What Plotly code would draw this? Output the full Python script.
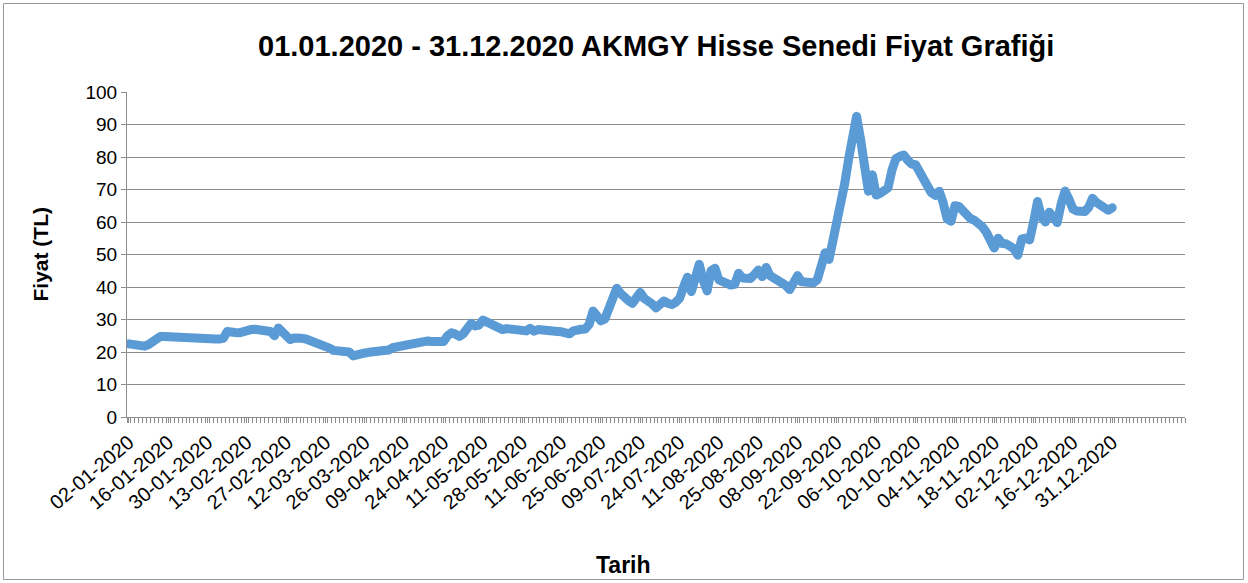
import plotly.graph_objects as go

TITLE = "01.01.2020 - 31.12.2020 AKMGY Hisse Senedi Fiyat Grafiği"
X_TITLE = "Tarih"
Y_TITLE = "Fiyat (TL)"

TICK_LABELS = [
    "02-01-2020", "16-01-2020", "30-01-2020", "13-02-2020", "27-02-2020",
    "12-03-2020", "26-03-2020", "09-04-2020", "24-04-2020", "11-05-2020",
    "28-05-2020", "11-06-2020", "25-06-2020", "09-07-2020", "24-07-2020",
    "11-08-2020", "25-08-2020", "08-09-2020", "22-09-2020", "06-10-2020",
    "20-10-2020", "04-11-2020", "18-11-2020", "02-12-2020", "16-12-2020",
    "31.12.2020",
]
LABEL_EVERY = 10
N_CATEGORIES = 269  # includes empty trailing categories of the axis

PRICES = [
    22.5, 22.2, 21.9, 21.7, 21.8, 22.3, 23.3, 24.4, 24.8, 24.8,
    24.7, 24.9, 24.5, 24.3, 24.2, 24.2, 24.1, 24.0, 24.1, 24.3,
    24.2, 24.1, 24.0, 24.0, 24.2, 26.3, 25.8, 26.0, 25.9, 26.4,
    26.6, 26.9, 27.0, 26.7, 26.6, 26.4, 26.3, 25.0, 27.4, 26.2,
    24.8, 23.8, 24.3, 24.5, 24.2, 24.0, 23.6, 23.3, 22.9, 22.6,
    22.0, 21.2, 20.5, 20.2, 20.3, 20.3, 20.0, 18.8, 19.3, 19.6,
    19.7, 19.9, 20.0, 20.0, 20.1, 20.0, 20.6, 21.3, 21.6, 21.8,
    22.0, 22.1, 22.2, 22.6, 23.0, 23.3, 23.4, 23.2, 23.0, 22.8,
    23.2, 25.0, 25.9, 25.5, 24.8, 25.6, 27.0, 28.8, 28.0, 28.3,
    29.8, 29.2, 28.6, 27.5, 26.8, 26.9, 27.2, 27.0, 26.8, 26.6,
    26.4, 26.5, 27.3, 26.4, 26.9, 26.9, 26.7, 26.5, 26.4, 26.3,
    26.2, 26.0, 25.6, 26.5, 27.0, 27.0, 27.1, 28.5, 32.6, 31.0,
    29.6, 30.2, 33.8, 37.2, 39.6, 38.0, 36.6, 35.8, 35.0, 36.2,
    38.3, 36.5, 36.0, 34.8, 33.6, 34.6, 35.7, 35.0, 34.6, 35.3,
    36.5, 40.0, 43.0, 38.6, 43.5, 47.0, 42.0, 38.8, 45.0, 45.8,
    42.2, 41.6, 41.0, 40.6, 40.8, 44.2, 42.8, 42.6, 42.6, 43.8,
    45.2, 43.2, 46.0, 43.5, 42.8, 42.3, 41.6, 40.5, 39.2, 40.8,
    43.5, 41.6, 41.5, 41.4, 41.3, 42.2, 47.0, 50.5, 48.5, 54.0,
    58.5, 64.5, 72.0, 79.5, 87.0, 92.5, 85.5, 77.0, 69.5, 74.5,
    68.3, 68.8, 69.5, 70.5, 76.0, 79.5, 80.2, 80.6, 79.0, 77.8,
    77.6, 75.5, 73.2, 70.5, 69.0, 68.2, 69.5, 66.0, 61.0, 60.2,
    65.0, 64.8, 63.5, 62.0, 61.0, 60.5, 59.8, 58.5, 56.8, 54.5,
    52.0, 55.0, 53.4, 53.3, 52.8, 51.8, 49.8, 54.8, 55.0, 54.5,
    60.0, 66.3, 61.5, 60.0, 63.0, 61.5, 59.8, 65.5, 69.5, 67.0,
    64.0, 63.4, 63.2, 63.2, 64.5, 67.3, 66.0, 65.2, 65.2, 63.6,
    64.4,
]

FONT = "Liberation Sans, Arial, sans-serif"
GRID = "#8C8C8C"
LINE_COLOR = "#5B9BD5"
TEXT = "#000000"

positions = list(range(len(PRICES)))
tick_positions = positions[::LABEL_EVERY][: len(TICK_LABELS)]

fig = go.Figure(
    go.Scatter(
        x=positions,
        y=PRICES,
        mode="lines",
        line=dict(color=LINE_COLOR, width=9),
        hoverinfo="y",
        showlegend=False,
    )
)

W, H = 1248, 583
L, R, T, B = 127, 63, 92, 166
pw, ph = W - L - R, H - T - B

fig.update_layout(
    width=W,
    height=H,
    autosize=False,
    margin=dict(l=L, r=R, t=T, b=B),
    paper_bgcolor="white",
    plot_bgcolor="white",
    font=dict(family=FONT, color=TEXT),
    xaxis=dict(
        range=[-0.5, N_CATEGORIES - 0.5],
        tickmode="array",
        tickvals=tick_positions,
        ticktext=TICK_LABELS,
        tickangle=-40,
        tickfont=dict(size=20, family=FONT, color=TEXT),
        ticks="outside",
        ticklen=5,
        tickcolor=GRID,
        showline=True,
        linecolor=GRID,
        linewidth=1,
        showgrid=False,
        zeroline=False,
        minor=dict(dtick=1, tick0=0.5, ticks="outside", ticklen=5,
                   tickcolor=GRID, showgrid=False),
    ),
    yaxis=dict(
        range=[0, 100],
        dtick=10,
        tickfont=dict(size=19, family=FONT, color=TEXT),
        ticks="outside",
        ticklen=5,
        tickcolor=GRID,
        showline=True,
        linecolor=GRID,
        linewidth=1,
        showgrid=True,
        gridcolor=GRID,
        gridwidth=1,
        zeroline=False,
    ),
    annotations=[
        dict(text="<b>" + TITLE + "</b>", xref="paper", yref="paper", x=0.5,
             y=1 + (T - 46) / ph, xanchor="center", yanchor="middle",
             showarrow=False, font=dict(size=29, family=FONT, color=TEXT)),
        dict(text="<b>" + Y_TITLE + "</b>", xref="paper", yref="paper",
             x=-(L - 40) / pw, y=0.5, xanchor="center", yanchor="middle",
             textangle=-90, showarrow=False,
             font=dict(size=21, family=FONT, color=TEXT)),
        dict(text="<b>" + X_TITLE + "</b>", xref="paper", yref="paper",
             x=(623 - L) / pw, y=-(565 - (H - B)) / ph,
             xanchor="center", yanchor="middle", showarrow=False,
             font=dict(size=23, family=FONT, color=TEXT)),
    ],
    shapes=[
        dict(type="rect", xref="paper", yref="paper",
             x0=-(L - 3.5) / pw, x1=1 + (R - 4.5) / pw,
             y0=-(B - 3.5) / ph, y1=1 + (T - 3.5) / ph,
             line=dict(color="#9A9A9A", width=1), fillcolor="rgba(0,0,0,0)",
             layer="below"),
    ],
)

POST = """
document.body.style.margin='0';
document.querySelectorAll('.scatterlayer path.js-line').forEach(function(p){
  p.style.strokeLinejoin='round'; p.style.strokeLinecap='round';
});
"""

fig.write_html("out.html", post_script=POST,
               config={"displayModeBar": False})
